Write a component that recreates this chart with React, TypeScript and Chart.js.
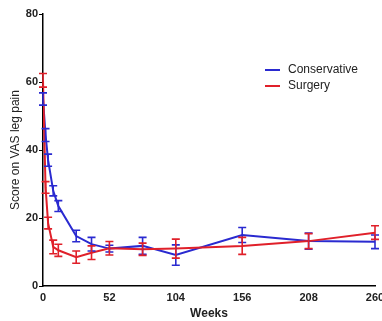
import React, { useEffect, useRef } from "react";
import { Chart, registerables } from "chart.js";

Chart.register(...registerables);

const weeks = [0, 2, 4, 8, 12, 26, 38, 52, 78, 104, 156, 208, 260];
const conservative = [55, 44.4, 37, 28, 23.5, 14.7, 12.3, 11, 11.8, 9.1, 15, 13.2, 13];
const conservativeErr = [1.8, 1.9, 1.8, 1.5, 1.6, 1.7, 2, 1, 2.5, 3, 2.2, 2.4, 2];
const surgery = [60.5, 29, 18.5, 11.5, 10.5, 8.5, 9.8, 11.1, 10.8, 11, 11.8, 13.2, 15.7];
const surgeryErr = [2, 1.7, 1.7, 2, 1.8, 1.8, 2, 2, 1.8, 2.8, 2.5, 2.2, 2];
const xTicks = [0, 52, 104, 156, 208, 260];
const yTicks = [0, 20, 40, 60, 80];

const BLUE = "#2a2ad0";
const RED = "#e0202a";

const errorBarPlugin = {
  id: "errorBars",
  afterDatasetsDraw(chart: any) {
    const ctx = chart.ctx;
    const xs = chart.scales.x;
    const ys = chart.scales.y;
    chart.data.datasets.forEach((ds: any) => {
      const errs: number[] = ds.errors || [];
      ctx.save();
      ctx.strokeStyle = ds.borderColor;
      ctx.lineWidth = 1.6;
      ds.data.forEach((p: any, i: number) => {
        const x = xs.getPixelForValue(p.x);
        const top = ys.getPixelForValue(p.y + errs[i]);
        const bot = ys.getPixelForValue(p.y - errs[i]);
        ctx.beginPath();
        ctx.moveTo(x, top);
        ctx.lineTo(x, bot);
        ctx.moveTo(x - 4, top);
        ctx.lineTo(x + 4, top);
        ctx.moveTo(x - 4, bot);
        ctx.lineTo(x + 4, bot);
        ctx.stroke();
      });
      ctx.restore();
    });
  },
};

const legendPlugin = {
  id: "customLegend",
  afterDraw(chart: any) {
    const ctx = chart.ctx;
    const items = [
      { label: "Conservative", color: BLUE },
      { label: "Surgery", color: RED },
    ];
    ctx.save();
    ctx.font = "12px 'Liberation Sans', Arial, sans-serif";
    ctx.textBaseline = "middle";
    items.forEach((it, i) => {
      const y = 70 + i * 16;
      ctx.strokeStyle = it.color;
      ctx.lineWidth = 2;
      ctx.beginPath();
      ctx.moveTo(265, y);
      ctx.lineTo(280, y);
      ctx.stroke();
      ctx.fillStyle = "#222";
      ctx.fillText(it.label, 288, y);
    });
    ctx.restore();
  },
};

export default function App() {
  const ref = useRef<HTMLCanvasElement>(null);
  useEffect(() => {
    document.body.style.margin = "0";
    const chart = new Chart(ref.current!, {
      type: "line",
      data: {
        datasets: [
          {
            label: "Conservative",
            data: weeks.map((w, i) => ({ x: w, y: conservative[i] })),
            errors: conservativeErr,
            borderColor: BLUE,
            backgroundColor: BLUE,
            borderWidth: 2,
            pointRadius: 0,
            tension: 0,
            order: 1,
          } as any,
          {
            label: "Surgery",
            data: weeks.map((w, i) => ({ x: w, y: surgery[i] })),
            errors: surgeryErr,
            borderColor: RED,
            backgroundColor: RED,
            borderWidth: 2,
            pointRadius: 0,
            tension: 0,
            order: 0,
          } as any,
        ],
      },
      options: {
        animation: false,
        responsive: false,
        layout: { padding: { left: 0, top: 14, right: 17, bottom: 0 } },
        plugins: { legend: { display: false }, tooltip: { enabled: false } },
        scales: {
          x: {
            type: "linear",
            min: 0,
            max: 260,
            afterBuildTicks: (s: any) => {
              s.ticks = xTicks.map((v) => ({ value: v }));
            },
            afterFit: (s: any) => {
              s.height = 35;
            },
            grid: { display: false, drawOnChartArea: false, tickLength: 4, tickColor: "#000" },
            border: { color: "#000", width: 1.5 },
            ticks: {
              color: "#222",
              padding: 1,
              maxRotation: 0,
              font: { family: "'Liberation Sans', Arial, sans-serif", size: 11, weight: "bold" },
            },
            title: {
              display: true,
              text: "Weeks",
              color: "#222",
              padding: 0,
              font: { family: "'Liberation Sans', Arial, sans-serif", size: 12, weight: "bold" },
            },
          },
          y: {
            type: "linear",
            min: 0,
            max: 80,
            afterBuildTicks: (s: any) => {
              s.ticks = yTicks.map((v) => ({ value: v }));
            },
            afterFit: (s: any) => {
              s.width = 43;
            },
            grid: { display: true, drawOnChartArea: false, tickLength: 4, tickColor: "#000" },
            border: { color: "#000", width: 1.5 },
            ticks: {
              color: "#222",
              padding: 1,
              font: { family: "'Liberation Sans', Arial, sans-serif", size: 11, weight: "bold" },
            },
            title: {
              display: true,
              text: "Score on VAS leg pain",
              color: "#222",
              padding: { top: 8, bottom: 4 },
              font: { family: "'Liberation Sans', Arial, sans-serif", size: 12 },
            },
          },
        },
      },
      plugins: [errorBarPlugin, legendPlugin],
    });
    return () => chart.destroy();
  }, []);
  return (
    <div style={{ position: "absolute", left: 0, top: 0, width: 382, height: 321, overflow: "hidden", background: "#fff" }}>
      <canvas ref={ref} width={392} height={321} style={{ display: "block" }} />
    </div>
  );
}
